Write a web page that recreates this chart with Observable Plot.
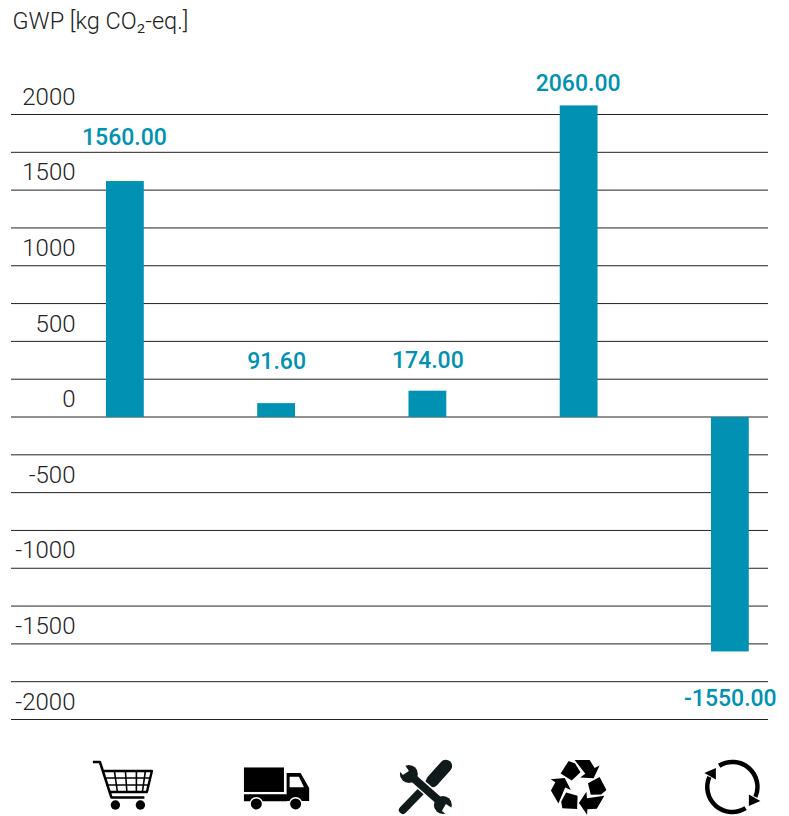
<!DOCTYPE html>
<html>
<head>
<meta charset="utf-8">
<script src="https://cdn.jsdelivr.net/npm/d3@7"></script>
<script src="https://cdn.jsdelivr.net/npm/@observablehq/plot@0.6"></script>
<style>html,body{margin:0;padding:0;background:#fff}svg{display:block}</style>
</head>
<body>
<div id="chart"></div>
<script>
const stages = ["purchase", "transport", "maintenance", "recycling", "circular"];
const gwp = [1560, 91.6, 174, 2060, -1550];
const labels = ["1560.00", "91.60", "174.00", "2060.00", "-1550.00"];
const labelOffsets = [-43.5, -42, -30, -22, 47.5];
const labelShift = [-1, 0, 0, -1, 0];
const gridLines = d3.range(-2000, 2001, 250);
const tickLabels = [-2000, -1500, -1000, -500, 0, 500, 1000, 1500, 2000];
const yTitle = "GWP [kg CO₂-eq.]";
const iconLevel = -2446;
const teal = "#0091b3";

const blockPts = "560.5,773.5 568.5,761 575,763.5 580.3,772.3 571.7,780.5";
const arrowPts = "574.5,760 589.5,760 594.5,768 599.5,765.5 593.5,778.3 580,777.5 585.2,773.9";
const recyclePiece = a => `<g transform="rotate(${a} 579 786.5)"><polygon points="${blockPts}"/><polygon points="${arrowPts}"/></g>`;
const cyclePiece = a => `<g transform="rotate(${a} 732 787)"><path d="M718.8 765.8A25 25 0 0 1 755 797" fill="none" stroke="#000" stroke-width="4.5"/><polygon points="760,801 748.5,794.5 748.5,806"/></g>`;

const svgs = [
  `<svg xmlns="http://www.w3.org/2000/svg" viewBox="75 752 100 70">
   <g fill="none" stroke="#000" stroke-linejoin="round">
   <path d="M92.5 762H99.5L111 797.5H144" stroke-width="2.6"/>
   <path d="M102 771H151.5L146.5 792H108.5" stroke-width="2.4"/>
   <path d="M104 778H150M106 785H148M114 771L117 792M125 771L126.5 792M136 771L136 792M145 771L142 792" stroke-width="1.6"/>
   </g><circle cx="115" cy="805" r="4.7"/><circle cx="140" cy="805" r="4.7"/></svg>`,
  `<svg xmlns="http://www.w3.org/2000/svg" viewBox="226 752 100 70">
   <rect x="243.3" y="767.5" width="40" height="24.5"/><rect x="243.3" y="794.3" width="43" height="7"/>
   <path d="M286 773H300L308.5 788V801H286Z"/><path d="M289 776.7H298.3L303.3 787.3H289Z" fill="#fff"/>
   <circle cx="255.7" cy="804" r="6.2" stroke="#fff" stroke-width="1.4"/><circle cx="295" cy="804" r="6.2" stroke="#fff" stroke-width="1.4"/></svg>`,
  `<svg xmlns="http://www.w3.org/2000/svg" viewBox="377 752 100 70">
   <g fill="#111a1a">
   <path d="M402 810L431 780" stroke="#111a1a" stroke-width="8" stroke-linecap="round"/>
   <path d="M431.5 781L445 766" stroke="#111a1a" stroke-width="12.5" stroke-linecap="round"/>
   <path d="M409 775L443 805" stroke="#fff" stroke-width="11"/>
   <path d="M409 775L443 805" stroke="#111a1a" stroke-width="8"/>
   <circle cx="408" cy="774" r="9"/><circle cx="442" cy="805" r="9"/>
   </g>
   <path d="M402 762L408 771L402 775L396 768Z" fill="#fff"/>
   <path d="M456 811L445 804L441 811L449 817Z" fill="#fff"/></svg>`,
  `<svg xmlns="http://www.w3.org/2000/svg" viewBox="529 752 100 70">${recyclePiece(0)}${recyclePiece(120)}${recyclePiece(240)}</svg>`,
  `<svg xmlns="http://www.w3.org/2000/svg" viewBox="680 752 100 70">${cyclePiece(0)}${cyclePiece(180)}</svg>`
];
const iconSrc = svgs.map(s => "data:image/svg+xml;charset=utf-8," + encodeURIComponent(s));

const rows = stages.map((s, i) => ({stage: s, value: gwp[i], label: labels[i], src: iconSrc[i]}));
const font = "Roboto, sans-serif";

const chart = Plot.plot({
  width: 789,
  height: 816,
  marginLeft: 11,
  marginRight: 21,
  marginTop: 0,
  marginBottom: 0,
  style: {background: "#fff", fontFamily: font},
  x: {type: "band", domain: stages, range: [-7.44, 862.2], padding: 0.75, round: false, axis: null},
  y: {domain: [-2000, 2000], range: [719, 114]},
  marks: [
    Plot.ruleY(gridLines, {stroke: "#222", strokeWidth: 1}),
    Plot.barY(rows, {x: "stage", y: "value", fill: teal, dy: 0.5}),
    Plot.axisY(tickLabels, {
      anchor: "left", tickSize: 0, tickPadding: 0, dx: 64, dy: -17.5, label: null,
      tickFormat: d => String(d), fontSize: 24, fontWeight: 300, fill: "#222", fontFamily: font
    }),
    ...rows.map((r, i) => Plot.text([r], {
      x: "stage", y: "value", text: "label", dy: labelOffsets[i], dx: labelShift[i],
      fill: teal, fontSize: 23, fontWeight: 500, fontFamily: font
    })),
    Plot.image(rows, {x: "stage", y: () => iconLevel, src: "src", width: 100, height: 70}),
    Plot.text([yTitle], {
      frameAnchor: "top-left", dx: 1, dy: 12, text: d => d, fontSize: 23.5, fontWeight: 300, fill: "#222", fontFamily: font
    })
  ]
});
document.getElementById("chart").append(chart);
</script>
</body>
</html>
